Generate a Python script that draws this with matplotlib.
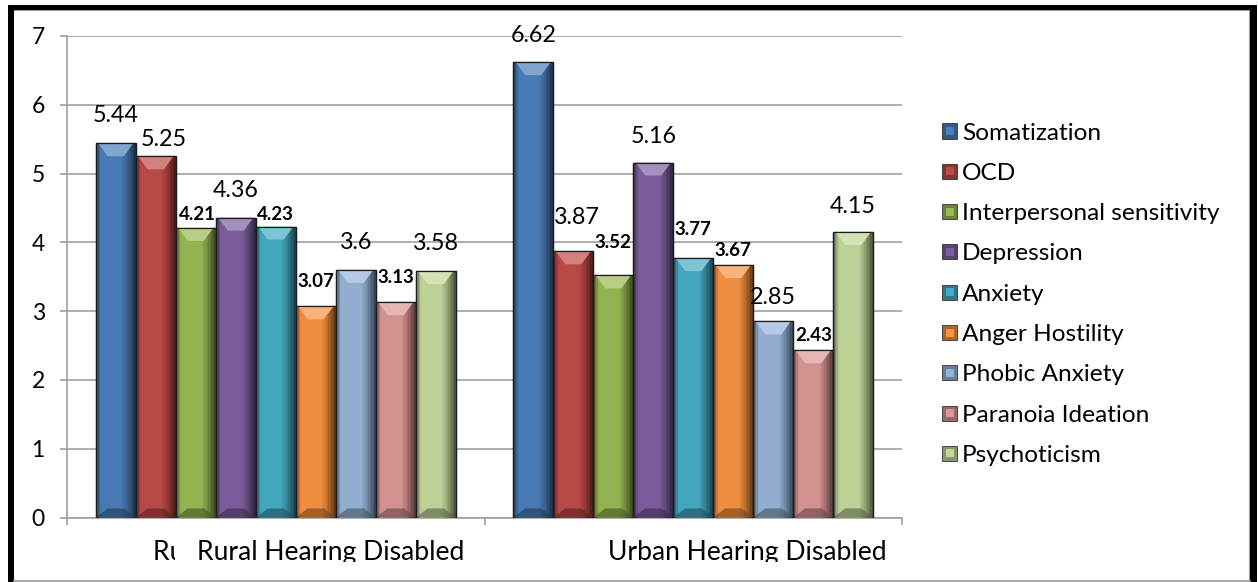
import numpy as np
import matplotlib
matplotlib.use("Agg")
import matplotlib.pyplot as plt
from matplotlib.patches import Rectangle, Polygon
from matplotlib.collections import PolyCollection
from matplotlib.lines import Line2D
from matplotlib.transforms import Bbox, TransformedBbox
from matplotlib.colors import to_rgb

# ---- data -------------------------------------------------------------
categories = ["Rural Hearing Disabled", "Urban Hearing Disabled"]
series = ["Somatization", "OCD", "Interpersonal sensitivity", "Depression",
          "Anxiety", "Anger Hostility", "Phobic Anxiety", "Paranoia Ideation",
          "Psychoticism"]
rural = [5.44, 5.25, 4.21, 4.36, 4.23, 3.07, 3.6, 3.13, 3.58]
urban = [6.62, 3.87, 3.52, 5.16, 3.77, 3.67, 2.85, 2.43, 4.15]
y_ticks = [0, 1, 2, 3, 4, 5, 6, 7]

# ---- styling ----------------------------------------------------------
colors = ["#4A7EBB", "#BE4B48", "#98B954", "#7D60A0", "#46AAC5",
          "#F69240", "#95B3D7", "#D99694", "#C3D69B"]
bold_series = [False, False, True, False, True, True, False, True, False]
# label lift above each bar (pixels) and sideways nudge (pixels)
lift = [[21, 10, 8, 21, 7, 19, 21, 19, 21],
        [20, 27, 27, 20, 23, 9, 17, 9, 19]]
nudge = [[0, 8, 2, 0, 0, 0, 0, 0, 0],
         [0, 4, 0, 0, 0, 0, 0, 0, 0]]

W, H = 1258, 582
DPI = 100
plt.rcParams["font.family"] = ["Lato", "DejaVu Sans"]

fig = plt.figure(figsize=(W / DPI, H / DPI), dpi=DPI)
fig.patch.set_facecolor("white")


def fx(x):
    return x / W


def fy(y):
    return 1 - y / H


ax_left, ax_right, ax_top, ax_bot = 67, 902, 36, 517.5
ax = fig.add_axes([fx(ax_left), fy(ax_bot), fx(ax_right - ax_left),
                   (ax_bot - ax_top) / H])
ax.set_xlim(-0.5, 1.5)
ax.set_ylim(0, 7)

grid_c = "#A0A0A0"
ax.set_yticks(y_ticks)
ax.yaxis.grid(True, color=grid_c, linewidth=1.2)
ax.set_axisbelow(True)
ax.tick_params(axis="y", direction="out", length=5, width=1.2, color=grid_c,
               labelsize=16.5, pad=11, labelcolor="black")
ax.set_xticks([])
ax.set_xticks([-0.5, 0.5, 1.5], minor=True)
ax.tick_params(axis="x", which="minor", direction="out", length=5, width=1.2,
               color=grid_c, labelbottom=False)
for s in ["top", "right"]:
    ax.spines[s].set_visible(False)
for s in ["left", "bottom"]:
    ax.spines[s].set_color(grid_c)
    ax.spines[s].set_linewidth(1.2)

n = len(series)
bar_w = (40 / (ax_right - ax_left)) * 2.0
x_base = np.arange(len(categories))
units_per_px = 7 / (ax_bot - ax_top)

values = np.array([rural, urban])


def shade(t):
    """Brightness across the bar face, 0 = left edge, 1 = right edge."""
    if t < 0.14:
        return 0.45 + 0.52 * (t / 0.14)
    if t > 0.64:
        return 0.97 - 0.62 * ((t - 0.64) / 0.36) ** 1.2
    return 0.97


n_strips = 26
for i in range(n):
    xs = x_base + (i - (n - 1) / 2) * bar_w
    vals = values[:, i]
    base = np.array(to_rgb(colors[i]))
    bars = ax.bar(xs, vals, width=bar_w, color=colors[i],
                  edgecolor="#1c1c1c", linewidth=0.9, zorder=3,
                  label=series[i])
    for gi, patch in enumerate(bars.patches):
        x0, w, h = patch.get_x(), patch.get_width(), patch.get_height()
        # vertical strips giving the rounded side shading
        edges = np.linspace(x0, x0 + w, n_strips + 1)
        verts, fcs = [], []
        for k in range(n_strips):
            a, b = edges[k], edges[k + 1] + w * 0.004
            verts.append([(a, 0), (b, 0), (b, h), (a, h)])
            tc = (k + 0.5) / n_strips
            fcs.append(np.clip(base * shade(tc), 0, 1))
        ax.add_collection(PolyCollection(verts, facecolors=fcs,
                                         edgecolors="none", zorder=3.1,
                                         antialiased=False))
        bx = 0.3 * w
        by = min(13 * units_per_px, h / 2)
        light = base + (1 - base) * 0.3
        dark = base * 0.45
        ax.add_patch(Polygon([(x0 + 0.06 * w, h), (x0 + 0.94 * w, h),
                              (x0 + w - bx, h - by), (x0 + bx, h - by)],
                             closed=True, facecolor=light, edgecolor="none",
                             zorder=3.2))
        ax.add_patch(Polygon([(x0, 0), (x0 + w, 0), (x0 + w - bx, by * 0.7),
                              (x0 + bx, by * 0.7)], closed=True,
                             facecolor=dark, edgecolor="none", alpha=0.6,
                             zorder=3.2))
        ax.add_patch(Rectangle((x0, 0), w, h, facecolor="none",
                               edgecolor="#1c1c1c", linewidth=0.9, zorder=3.3))
        # value label
        if bold_series[i]:
            fs, fw = 13.5, "bold"
        else:
            fs, fw = 16.8, "normal"
        ax.annotate(f"{vals[gi]:g}", xy=(x0 + w / 2, h),
                    xytext=(nudge[gi][i] * 0.72, lift[gi][i] * 0.72),
                    textcoords="offset points", ha="center", va="baseline",
                    fontsize=fs, fontweight=fw, color="black", zorder=5)

# category labels (clipped by the chart's lower edge)
clip_all = TransformedBbox(Bbox([[0, fy(562)], [1, 1]]), fig.transFigure)
label_x = [331, 747.5]
for cat, lx in zip(categories, label_x):
    t = fig.text(fx(lx), fy(560), cat, ha="center", va="baseline",
                 fontsize=19.1, color="black")
    t.set_clip_box(clip_all)
    t.set_clip_on(True)
clip_ru = TransformedBbox(Bbox([[0, fy(562)], [fx(175), 1]]), fig.transFigure)
t = fig.text(fx(153), fy(560), categories[0], ha="left", va="baseline",
             fontsize=19.1, color="black")
t.set_clip_box(clip_ru)
t.set_clip_on(True)

# legend
leg_y0, leg_dy = 131, 40.3
sq = 15
for i, name in enumerate(series):
    yc = leg_y0 + i * leg_dy
    base = np.array(to_rgb(colors[i]))
    fig.add_artist(Rectangle((fx(942), fy(yc + sq / 2)), fx(sq), sq / H,
                             transform=fig.transFigure, facecolor=base * 0.7,
                             edgecolor="#333333", linewidth=0.6))
    fig.add_artist(Rectangle((fx(945.5), fy(yc + sq / 2 - 3.5)), fx(sq - 7),
                             (sq - 7) / H, transform=fig.transFigure,
                             facecolor=base, edgecolor="none"))
    fig.text(fx(962), fy(yc), name, ha="left", va="center_baseline",
             fontsize=17.6, color="black")

# chart frame
fig.add_artist(Line2D([fx(14), fx(1249), fx(1249)], [fy(10), fy(10), fy(581)],
                      transform=fig.transFigure, color="#9a9a9a", lw=0.8))
fig.add_artist(Line2D([fx(14), fx(1250)], [fy(580.5), fy(580.5)],
                      transform=fig.transFigure, color="#9a9a9a", lw=1.2))
fig.add_artist(Rectangle((fx(8), fy(582)), fx(6), 577 / H,
                         transform=fig.transFigure, facecolor="black",
                         edgecolor="none"))
fig.add_artist(Rectangle((fx(8), fy(10)), fx(1249), 5 / H,
                         transform=fig.transFigure, facecolor="black",
                         edgecolor="none"))
fig.add_artist(Rectangle((fx(1250), fy(582)), fx(7), 577 / H,
                         transform=fig.transFigure, facecolor="black",
                         edgecolor="none"))

fig.savefig("out.png", dpi=DPI, facecolor="white")
